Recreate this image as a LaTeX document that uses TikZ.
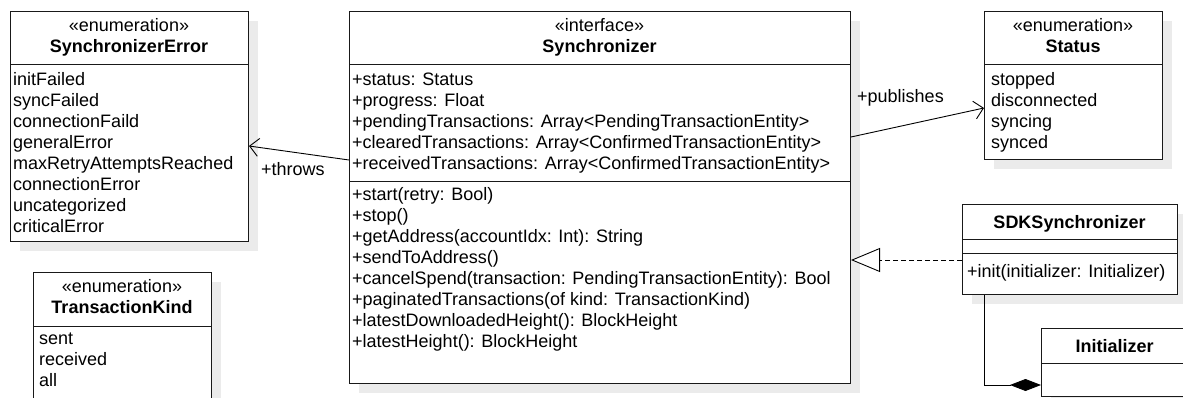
\documentclass[tikz,border=0pt]{standalone}
\usepackage{fontspec}
\setmainfont{Liberation Sans}
\usetikzlibrary{arrows.meta}

\tikzset{
  umlbox/.style={draw=black!90, line width=1pt, fill=white, rectangle,
    inner sep=0pt, anchor=north west},
  shadowbox/.style={fill=black!8, draw=none},
  txt/.style={inner sep=0pt, font=\fontsize{18}{21}\selectfont},
  items/.style={txt, align=left, anchor=north west, execute at begin node=\strut},
  header/.style={txt, align=center, anchor=north, execute at begin node=\strut},
  classname/.style={txt, anchor=base, font=\fontsize{18}{21}\selectfont\bfseries},
  sepline/.style={draw=black!90, line width=1pt},
  assoc/.style={line width=0.9pt,
    -{Straight Barb[length=9pt, width=18pt, line width=0.9pt]}},
  realize/.style={line width=0.9pt, dash pattern=on 5pt off 3pt,
    -{Triangle[open, length=29pt, width=24pt, fill=white, line width=0.9pt]}},
  compose/.style={line width=0.9pt, -{Diamond[length=31pt, width=12pt]}},
}

\begin{document}
\begin{tikzpicture}[x=1pt, y=-1pt]
\useasboundingbox (0,0) rectangle (1183,398);
\clip (0,0) rectangle (1183,398);

% drop shadows behind the class boxes
\fill[shadowbox] (20,21) rectangle (258,251);
\fill[shadowbox] (359,21) rectangle (860,393);
\fill[shadowbox] (994,21) rectangle (1172,169);
\fill[shadowbox] (972,214) rectangle (1187,304);
\fill[shadowbox] (1051,338) rectangle (1198,406);
\fill[shadowbox] (43,282) rectangle (221,420);

% SynchronizerError
\node[umlbox, minimum width=238pt, minimum height=230pt] (err) at (10,11) {};
\draw[sepline] (err.west |- 0,65) -- (err.east |- 0,65);
\node[header] (errhead) at (129,18.3) {«enumeration»\\\textbf{SynchronizerError}};
\node[items] (erritems) at (13,72.3) {initFailed\\syncFailed\\connectionFaild\\generalError\\maxRetryAttemptsReached\\connectionError\\uncategorized\\criticalError};

% Synchronizer
\node[umlbox, minimum width=501pt, minimum height=372pt] (sync) at (349,11) {};
\draw[sepline] (sync.west |- 0,65) -- (sync.east |- 0,65);
\draw[sepline] (sync.west |- 0,182) -- (sync.east |- 0,182);
\node[header] (synchead) at (599.5,18.3) {«interface»\\\textbf{Synchronizer}};
\node[items] (syncattrs) at (352,72.3) {+status: Status\\+progress: Float\\+pendingTransactions: Array<PendingTransactionEntity>\\+clearedTransactions: Array<ConfirmedTransactionEntity>\\+receivedTransactions: Array<ConfirmedTransactionEntity>};
\node[items] (syncops) at (352,187.3) {+start(retry: Bool)\\+stop()\\+getAddress(accountIdx: Int): String\\+sendToAddress()\\+cancelSpend(transaction: PendingTransactionEntity): Bool\\+paginatedTransactions(of kind: TransactionKind)\\+latestDownloadedHeight(): BlockHeight\\+latestHeight(): BlockHeight};

% Status
\node[umlbox, minimum width=178pt, minimum height=148pt] (status) at (984,11) {};
\draw[sepline] (status.west |- 0,65) -- (status.east |- 0,65);
\node[header] (statushead) at (1073,18.3) {«enumeration»\\\textbf{Status}};
\node[items] (statusitems) at (991,72.3) {stopped\\disconnected\\syncing\\synced};

% SDKSynchronizer
\node[umlbox, minimum width=215pt, minimum height=90pt] (sdk) at (962,204) {};
\draw[sepline] (sdk.west |- 0,239) -- (sdk.east |- 0,239);
\draw[sepline] (sdk.west |- 0,253) -- (sdk.east |- 0,253);
\node[classname] (sdkname) at (1069.5,229) {SDKSynchronizer};
\node[txt, anchor=base west] (sdkops) at (967,277) {+init(initializer: Initializer)};

% Initializer
\node[umlbox, minimum width=147pt, minimum height=68pt] (init) at (1041,328) {};
\draw[sepline] (init.west |- 0,363) -- (init.east |- 0,363);
\node[classname] (initname) at (1114.5,352) {Initializer};

% TransactionKind
\node[umlbox, minimum width=178pt, minimum height=138pt] (kind) at (33,272) {};
\draw[sepline] (kind.west |- 0,326) -- (kind.east |- 0,326);
\node[header] (kindhead) at (122,279.3) {«enumeration»\\\textbf{TransactionKind}};
\node[items] (kinditems) at (39,332.8) {sent\\received\\all};

% relationships
\draw[assoc] (sync.west |- 0,160) -- (err.east |- 0,146);
\node[txt, anchor=base west] (throwslbl) at (261,176) {+throws};

\draw[assoc] (sync.east |- 0,137) -- (status.west |- 0,108);
\node[txt, anchor=base west] (publbl) at (857,103) {+publishes};

\draw[realize] (sdk.west |- 0,260) -- (sync.east |- 0,260);

\draw[compose] (sdk.south -| 984,0) |- (init.west |- 0,385);
\end{tikzpicture}
\end{document}
